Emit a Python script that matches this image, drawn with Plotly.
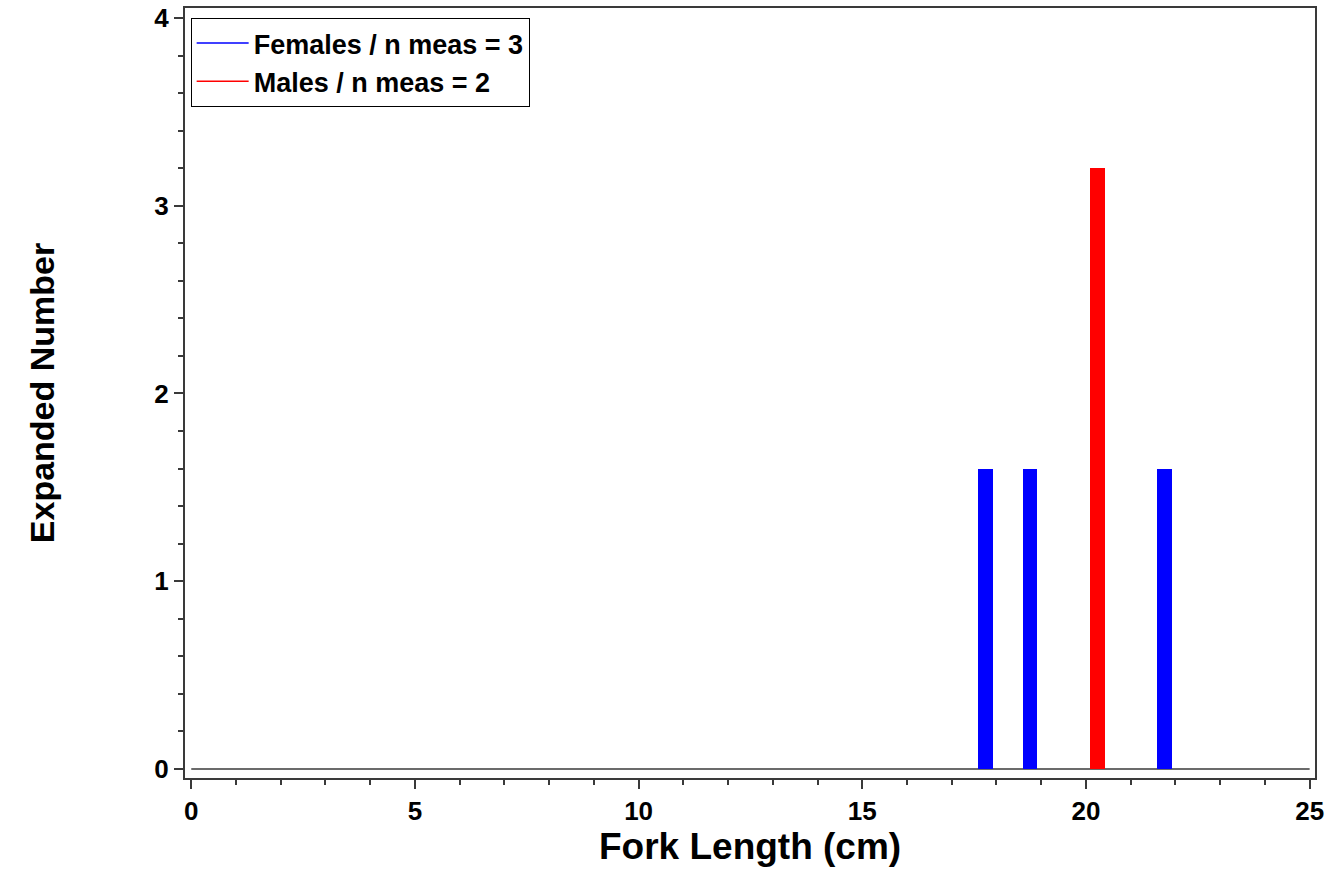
import plotly.graph_objects as go

# Length-frequency data (expanded numbers by fork length bin)
female_lengths = [17.75, 18.75, 21.75]
female_counts = [1.6, 1.6, 1.6]
male_lengths = [20.25]
male_counts = [3.2]

female_label = "Females / n meas = 3"
male_label = "Males / n meas = 2"
x_title = "Fork Length (cm)"
y_title = "Expanded Number"

x_ticks = [0, 5, 10, 15, 20, 25]
y_ticks = [0, 1, 2, 3, 4]

FONT = "Arial, Liberation Sans, sans-serif"
AXIS_COLOR = "#3a3a3a"
BAR_WIDTH = 0.33

fig = go.Figure()

fig.add_trace(go.Bar(x=female_lengths, y=female_counts, width=BAR_WIDTH,
                     marker=dict(color="#0000ff", line=dict(width=0)),
                     showlegend=False))
fig.add_trace(go.Bar(x=male_lengths, y=male_counts, width=BAR_WIDTH,
                     marker=dict(color="#ff0000", line=dict(width=0)),
                     showlegend=False))

# Legend entries drawn as line samples
fig.add_trace(go.Scatter(x=[None], y=[None], mode="lines", name=female_label,
                         line=dict(color="#0000ff", width=1.5)))
fig.add_trace(go.Scatter(x=[None], y=[None], mode="lines", name=male_label,
                         line=dict(color="#ff0000", width=1.5)))

# Baseline across the measured length range
fig.add_shape(type="line", xref="x", yref="y",
              x0=x_ticks[0], x1=x_ticks[-1], y0=0, y1=0,
              line=dict(color=AXIS_COLOR, width=1.5), layer="below")

# X-axis title placed below the tick labels
fig.add_annotation(text=x_title, xref="paper", yref="paper",
                   x=0.5, y=-0.0895, xanchor="center", yanchor="middle",
                   showarrow=False,
                   font=dict(size=37, weight="bold", family=FONT))

fig.update_layout(
    width=1342, height=890,
    margin=dict(l=185, r=27, t=8, b=112, autoexpand=False),
    paper_bgcolor="white", plot_bgcolor="white",
    font=dict(family=FONT, color="black"),
    bargap=0,
    legend=dict(x=0.005, y=0.987, xanchor="left", yanchor="top",
                bordercolor="black", borderwidth=1, bgcolor="white",
                font=dict(size=27, weight="bold", family=FONT),
                itemwidth=52, tracegroupgap=0),
    xaxis=dict(range=[-0.14, 25.12], tickvals=x_ticks, automargin=False,
               ticks="outside", ticklen=9, tickwidth=1.5, tickcolor=AXIS_COLOR,
               minor=dict(dtick=1, ticks="outside", ticklen=5, tickwidth=1.5,
                          tickcolor=AXIS_COLOR, showgrid=False),
               showline=True, linecolor=AXIS_COLOR, linewidth=2, mirror=True,
               showgrid=False, zeroline=False, ticklabeloverflow="allow",
               tickfont=dict(size=26, weight="bold", family=FONT)),
    yaxis=dict(range=[-0.048, 4.053], tickvals=y_ticks, automargin=False,
               ticks="outside", ticklen=9, tickwidth=1.5, tickcolor=AXIS_COLOR,
               minor=dict(dtick=0.2, ticks="outside", ticklen=5, tickwidth=1.5,
                          tickcolor=AXIS_COLOR, showgrid=False),
               showline=True, linecolor=AXIS_COLOR, linewidth=2, mirror=True,
               showgrid=False, zeroline=False, ticklabeloverflow="allow",
               tickfont=dict(size=26, weight="bold", family=FONT),
               title=dict(text=y_title, standoff=89,
                          font=dict(size=34, weight="bold", family=FONT))),
)

fig.write_html("out.html")
